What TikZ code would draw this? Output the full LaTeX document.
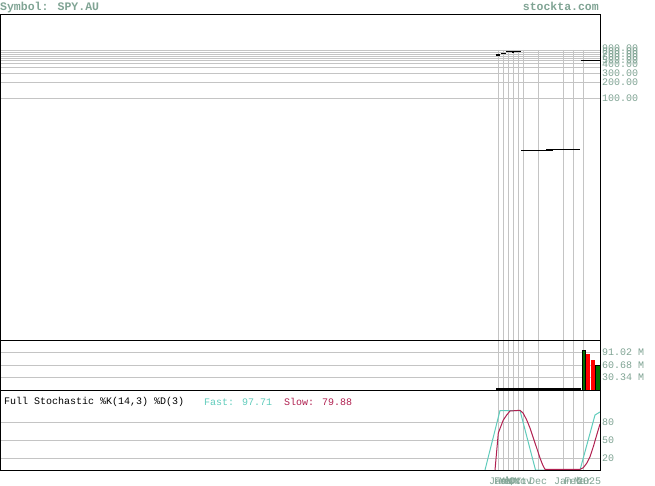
\documentclass[tikz,border=0pt]{standalone}
\usepackage{fontspec}
\newfontfamily\chartfont{Liberation Mono}
\usepackage{xcolor}
\usetikzlibrary{positioning}

\definecolor{axisgray}{RGB}{128,164,148}
\definecolor{gridgray}{RGB}{196,196,196}
\definecolor{fastcol}{RGB}{96,204,188}
\definecolor{slowcol}{RGB}{176,32,80}
\definecolor{upbar}{RGB}{0,112,0}
\definecolor{downbar}{RGB}{255,0,0}

\begin{document}
\begin{tikzpicture}[x=1pt, y=-1pt,
  grid/.style={draw=gridgray, line width=0.8pt},
  frame/.style={draw=black, line width=1pt},
  pricebar/.style={draw=black, line width=1.2pt},
  axislbl/.style={anchor=west, inner sep=0pt, text=axisgray, font=\chartfont\fontsize{10}{10}\selectfont},
  datelbl/.style={anchor=center, inner sep=0pt, text=axisgray, font=\chartfont\fontsize{10}{10}\selectfont},
  headlbl/.style={inner sep=0pt, text=axisgray, font=\chartfont\bfseries\fontsize{11.5}{12}\selectfont},
  stochlbl/.style={anchor=west, inner sep=0pt, font=\chartfont\fontsize{10}{10}\selectfont}
]
\useasboundingbox[fill=white] (0,0) rectangle (655,486);

% Header
\node[headlbl, anchor=base west] (sym) at (0,11) {Symbol: SPY.AU};
\node[headlbl, anchor=base east] (site) at (599,11) {stockta.com};

% Price panel grid
\foreach \y in {50.7,52,54,56,58.3,60.7,63,67,73,82,98}
  \draw[grid] (0,\y) -- (600,\y);
\foreach \x in {498,503,508,513,518,523,538,563,573,583} {
  \draw[grid] (\x,50) -- (\x,340);
  \draw[grid] (\x,340) -- (\x,470);
}

% Volume and stochastic grids
\foreach \y in {352.5,365,377.5,422,440,458}
  \draw[grid] (0,\y) -- (600,\y);

% Price bars
\draw[pricebar] (496,55) -- (500,55);
\draw[pricebar] (501,53.3) -- (506,53.3);
\draw[pricebar] (506,51.3) -- (521,51.3);
\draw[pricebar] (513,51.3) -- (513,52.8);
\draw[pricebar] (521,150.3) -- (546,150.3);
\draw[draw=black, line width=2pt] (546,149.8) -- (553,149.8);
\draw[pricebar] (553,149.3) -- (580,149.3);
\draw[pricebar] (581,60.3) -- (600,60.3);

% Price axis labels
\foreach \v/\y in {900/48,800/51,700/54,600/57,500/60,400/64,300/73,200/82,100/98}
  \node[axislbl] (p\v) at (602,\y) {\v.00};

% Volume bars
\draw[draw=black, line width=1.6pt] (496,389.2) -- (581,389.2);
\fill[upbar] (581.7,350) rectangle (585.5,390);
\fill[downbar] (586.3,354.3) rectangle (590,390);
\fill[downbar] (590.7,360.3) rectangle (595,390);
\fill[upbar] (595.5,365) rectangle (600,390);
\draw[black, line width=0.4pt] (581.7,350) rectangle (585.5,390);
\draw[black, line width=0.4pt] (595.5,365) rectangle (600,390);

% Volume labels
\node[axislbl] (v1) at (602,352.5) {91.02 M};
\node[axislbl] (v2) at (602,365) {60.68 M};
\node[axislbl] (v3) at (602,377.5) {30.34 M};

% Stochastic lines
\draw[fastcol, line width=1pt] (485,470) -- (500,410.5) -- (520,410.5) -- (535.5,470)
  -- (580,470) -- (595,415) -- (600,412);
\draw[slowcol, line width=1pt] (495,470) -- (498.3,433) -- (500.7,426.7) -- (503.3,420)
  -- (506.7,415) -- (510,411) -- (520,410.3) -- (523.3,413.3) -- (526.7,420)
  -- (530,428) -- (533.3,438) -- (536.7,448) -- (540,458) -- (542.7,465)
  -- (545,469.3) -- (580,469.3) -- (583.3,467.7) -- (586.7,463.3) -- (590,456.7)
  -- (593.3,446.7) -- (596.7,435) -- (600,424);

% Stochastic labels
\node[stochlbl] (stitle) at (4,402) {Full Stochastic \%K(14,3) \%D(3)};
\node[stochlbl, text=fastcol] (fast) at (204,402) {Fast: 97.71};
\node[stochlbl, text=slowcol] (slow) at (284,402) {Slow: 79.88};
\foreach \v/\y in {80/422,50/440,20/458}
  \node[axislbl] (s\v) at (602,\y) {\v};

% Date labels
\foreach \m/\x [count=\i] in {Jan/498,Feb/503,Mar/508,Apr/513,Oct/518,Nov/523,Dec/538,Jan/563,Feb/573,Mar/583,2025/589}
  \node[datelbl] (d\i) at (\x,481) {\m};

% Panel frames
\draw[frame] (0,15) rectangle (600,340);
\draw[frame] (0,340) rectangle (600,390);
\draw[frame] (0,390) rectangle (600,470);
\end{tikzpicture}
\end{document}
